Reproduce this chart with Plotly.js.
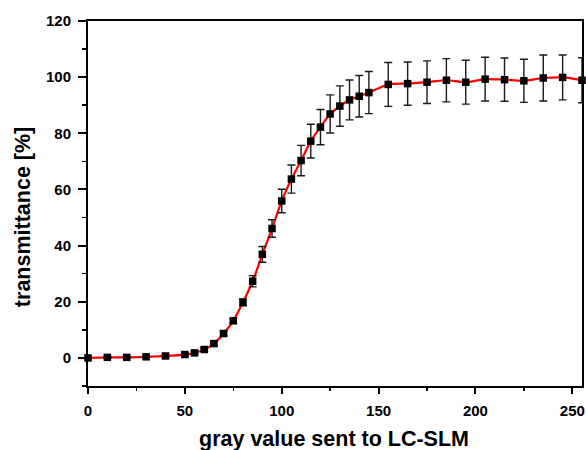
<!DOCTYPE html>
<html>
<head>
<meta charset="utf-8">
<script src="https://cdn.plot.ly/plotly-3.0.1.min.js"></script>
<style>html,body{margin:0;padding:0;background:#fff;}#chart{width:586px;height:450px;}</style>
</head>
<body>
<div id="chart"></div>
<script>
// gray value sent to LC-SLM
const grayValues = [0,10,20,30,40,50,55,60,65,70,75,80,85,90,95,100,105,110,115,120,125,130,135,140,145,155,165,175,185,195,205,215,225,235,245,255];
// transmittance [%]
const transmittance = [0.0,0.2,0.2,0.4,0.7,1.2,1.8,3.0,5.1,8.7,13.2,19.8,27.3,36.9,46.1,55.9,63.7,70.3,77.2,82.2,86.9,89.7,91.9,93.2,94.5,97.4,97.7,98.2,98.9,98.2,99.3,99.1,98.7,99.7,99.9,98.9];
// error bar half-widths
const errors = [0.3,0.3,0.3,0.3,0.4,0.5,0.5,0.6,0.7,0.8,0.9,1.2,2.0,2.8,3.1,4.2,5.0,5.4,6.0,6.3,6.8,7.2,7.1,7.4,7.5,7.8,7.7,7.6,7.7,7.8,7.8,7.7,7.7,8.2,8.0,8.0];
const xTicks = [0,50,100,150,200,250];
const yTicks = [0,20,40,60,80,100,120];

const FONT = '"Liberation Sans", Arial, sans-serif';

const traces = [
  {
    x: grayValues, y: transmittance, type: 'scatter', mode: 'lines',
    line: {color: '#ff0000', width: 2.2, shape: 'spline', smoothing: 0.8},
    hoverinfo: 'skip', showlegend: false
  },
  {
    x: grayValues, y: transmittance, type: 'scatter', mode: 'markers',
    marker: {symbol: 'square', size: 7.5, color: '#000000'},
    error_y: {type: 'data', array: errors, visible: true, color: '#1a1a1a', thickness: 1.4, width: 4},
    showlegend: false, cliponaxis: false
  }
];

const layout = {
  width: 586, height: 450,
  margin: {l: 88, r: 4, t: 21, b: 64},
  paper_bgcolor: '#ffffff', plot_bgcolor: '#ffffff',
  font: {family: FONT, color: '#000000'},
  showlegend: false,
  xaxis: {
    range: [0, 255], tickvals: xTicks, ticktext: xTicks.map(String),
    ticks: 'outside', ticklen: 6, tickwidth: 2, tickcolor: '#000',
    minor: {dtick: 25, tick0: 0, ticks: 'outside', ticklen: 3, tickwidth: 1.5, tickcolor: '#000'},
    showline: true, linewidth: 2, linecolor: '#000', mirror: true,
    showgrid: false, zeroline: false,
    tickfont: {family: FONT, size: 15, weight: 'bold', color: '#000'},
    ticklabelstandoff: 4
  },
  yaxis: {
    range: [-10, 120], tickvals: yTicks, ticktext: yTicks.map(String),
    ticks: 'outside', ticklen: 8, tickwidth: 2, tickcolor: '#000',
    minor: {dtick: 10, tick0: 0, ticks: 'outside', ticklen: 4, tickwidth: 1.5, tickcolor: '#000'},
    showline: true, linewidth: 2, linecolor: '#000', mirror: true,
    showgrid: false, zeroline: false,
    tickfont: {family: FONT, size: 15, weight: 'bold', color: '#000'},
    ticklabelstandoff: 4
  },
  xaxis2: {
    overlaying: 'x', side: 'top', range: [0, 255], tickvals: xTicks,
    ticks: 'inside', ticklen: 5, tickwidth: 1.5, tickcolor: '#000',
    minor: {dtick: 25, tick0: 0, ticks: 'inside', ticklen: 5, tickwidth: 1.5, tickcolor: '#000'},
    showticklabels: false, showgrid: false, zeroline: false, showline: false
  },
  yaxis2: {
    overlaying: 'y', side: 'right', range: [-10, 120], tickvals: yTicks,
    ticks: 'inside', ticklen: 6, tickwidth: 1.5, tickcolor: '#000',
    minor: {dtick: 10, tick0: 0, ticks: 'inside', ticklen: 5, tickwidth: 1.5, tickcolor: '#000'},
    showticklabels: false, showgrid: false, zeroline: false, showline: false
  },
  annotations: [
    {
      text: 'transmittance [%]', xref: 'paper', yref: 'paper',
      x: -0.13, y: 0.462, xanchor: 'center', yanchor: 'middle', textangle: -90,
      showarrow: false, font: {family: FONT, size: 21.5, weight: 'bold', color: '#000'}
    },
    {
      text: 'gray value sent to LC-SLM', xref: 'paper', yref: 'paper',
      x: 0.498, y: -0.145, xanchor: 'center', yanchor: 'middle',
      showarrow: false, font: {family: FONT, size: 21.5, weight: 'bold', color: '#000'}
    }
  ]
};

Plotly.newPlot('chart', traces, layout, {displayModeBar: false, staticPlot: true});
</script>
</body>
</html>
